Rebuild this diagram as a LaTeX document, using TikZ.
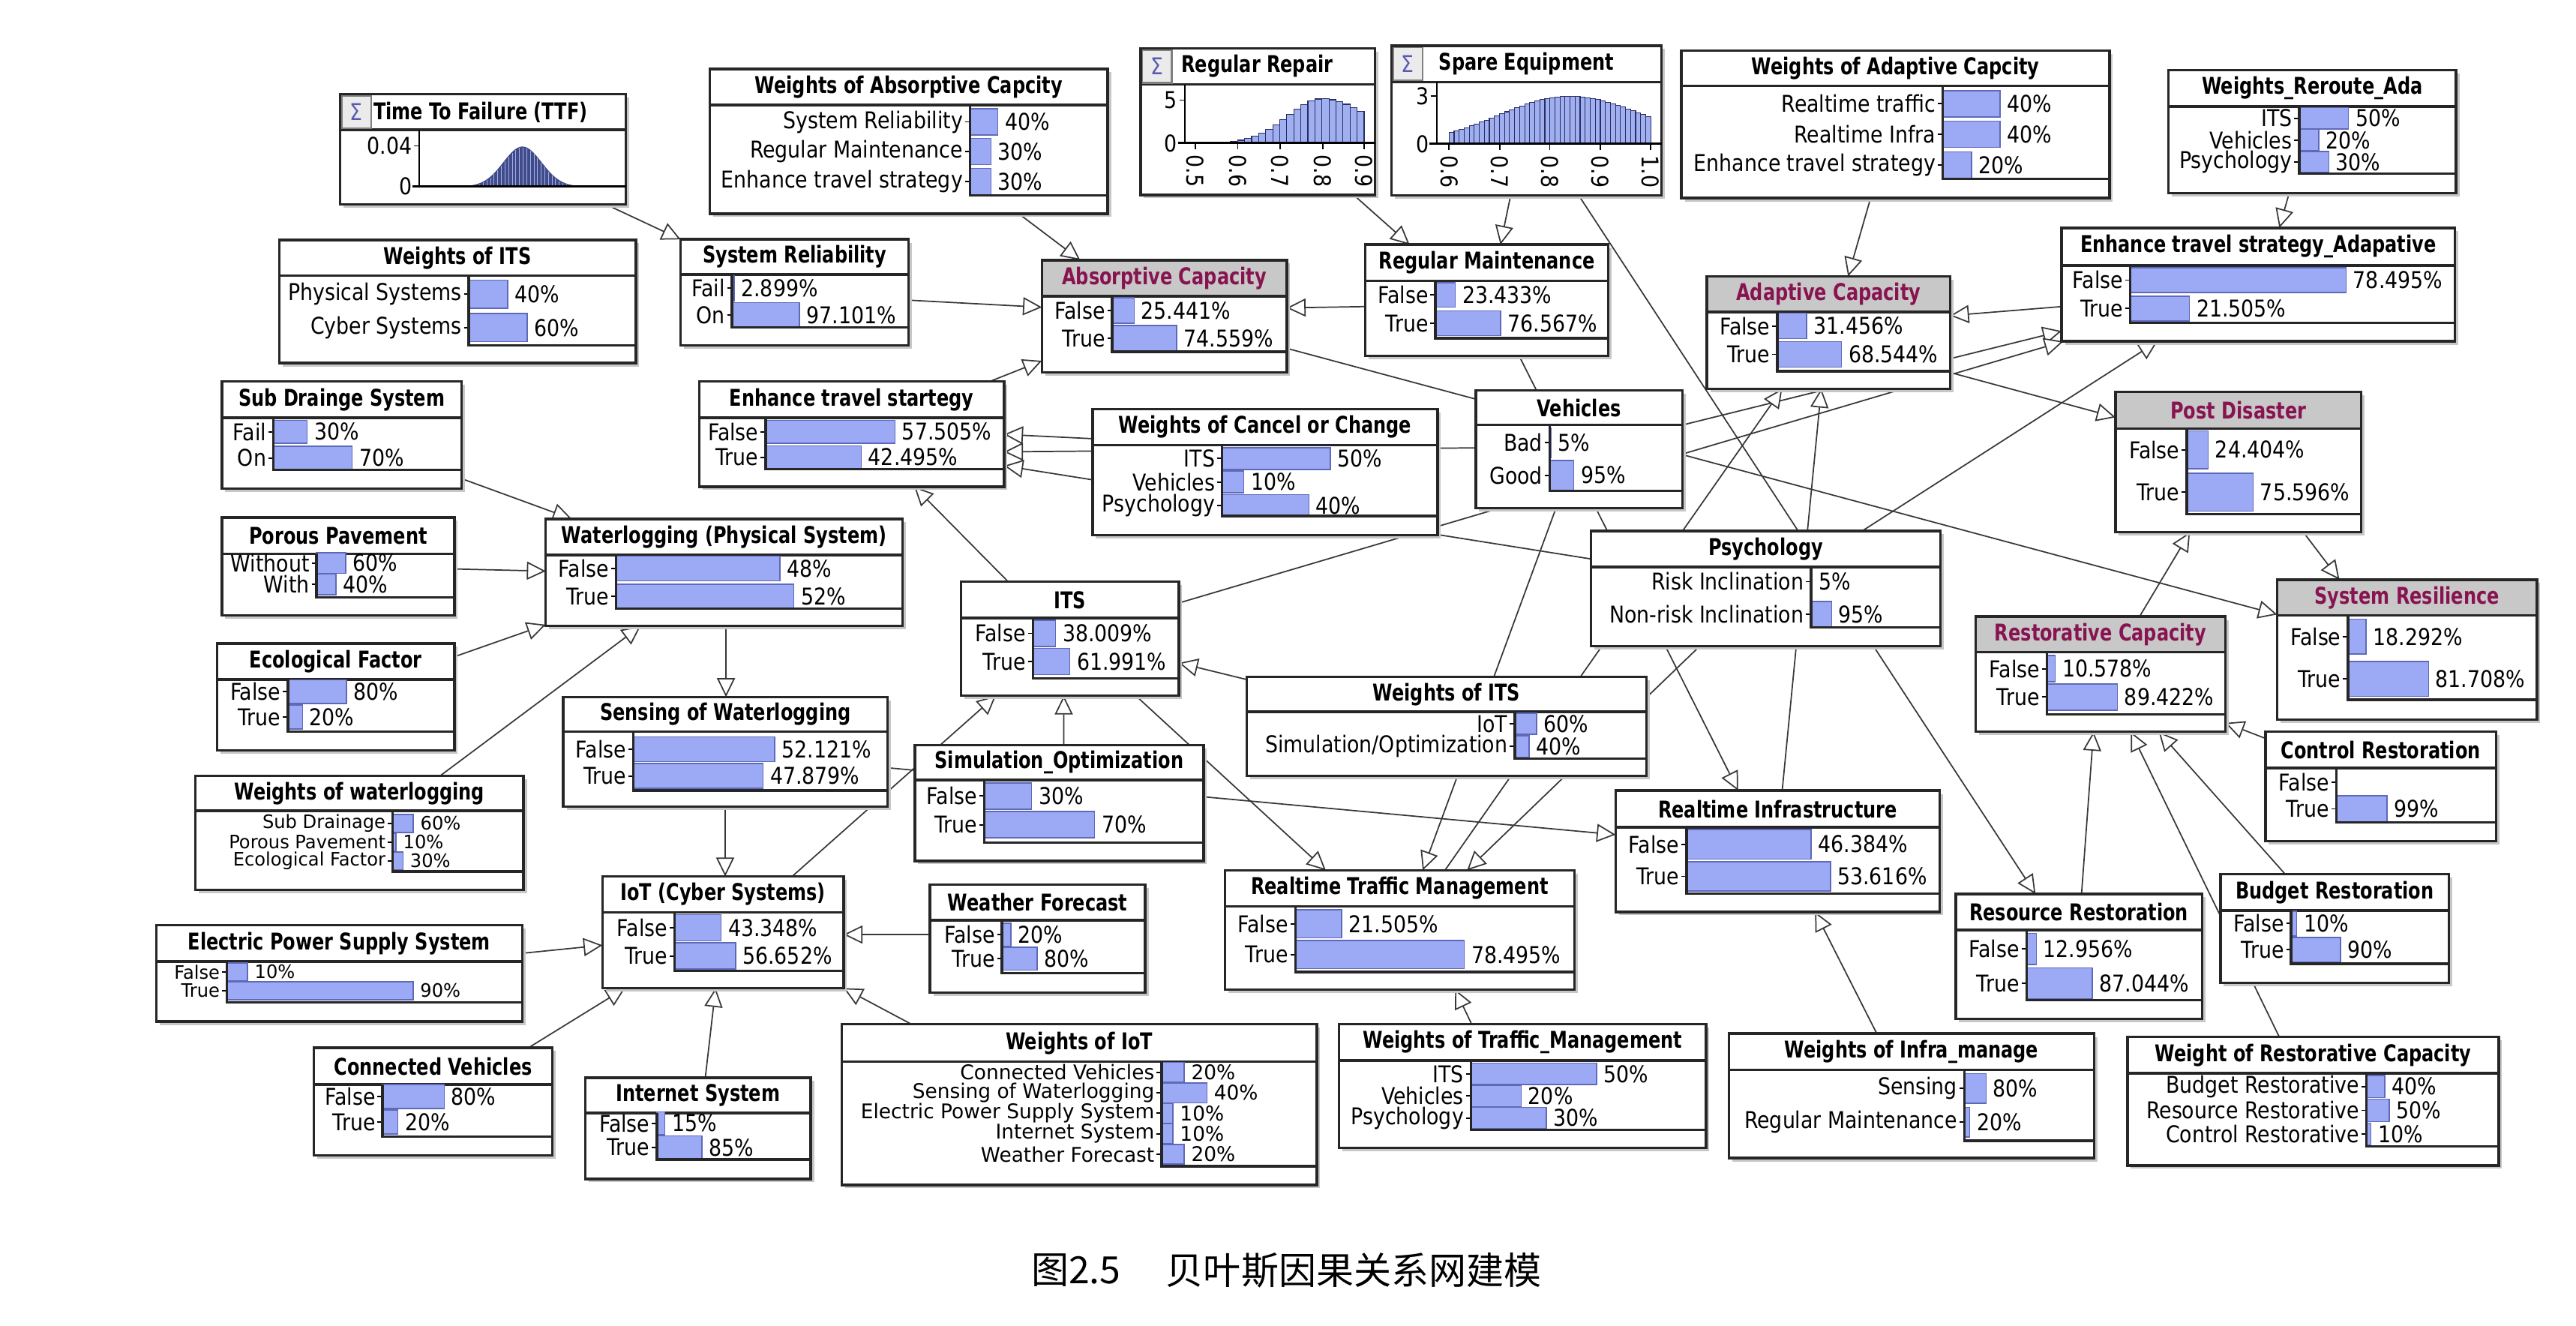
\documentclass[tikz,border=0pt]{standalone}
\usepackage{fontspec}
\setmainfont{DejaVu Sans}
\newfontfamily\rfont{DejaVu Sans}[FakeStretch=0.87]
\newfontfamily\sfont{DejaVu Sans}[FakeStretch=0.98]
\newfontfamily\tfont{DejaVu Sans}[FakeStretch=0.78]
\newfontfamily\cjk{Noto Sans CJK SC}
\usetikzlibrary{arrows.meta,calc}
\pgfdeclarelayer{bg}
\pgfsetlayers{bg,main}
\definecolor{barfill}{RGB}{156,170,245}
\definecolor{barline}{RGB}{95,105,185}
\definecolor{hdrgrey}{RGB}{200,200,200}
\definecolor{ttlred}{RGB}{135,20,80}
\definecolor{edgec}{RGB}{55,55,55}
\definecolor{histfill}{RGB}{160,175,240}
\definecolor{histline}{RGB}{40,45,100}
\definecolor{histdark}{RGB}{65,75,135}
\definecolor{sigc}{RGB}{90,90,180}
\newcommand\rowfont{\rfont\fontsize{8}{9}\selectfont}
\newcommand\smallrow{\sfont\fontsize{6.4}{7}\selectfont}
\newcommand\midrow{\sfont\fontsize{7}{8}\selectfont}
\newcommand\titlefont{\tfont\bfseries\fontsize{8}{9}\selectfont}
\tikzset{
  edge/.style={draw=edgec, line width=0.45pt, -{Triangle[length=2.3mm, width=2.2mm, fill=white]}},
  frame/.style={draw=black!85, line width=0.9pt},
}
\pgfkeys{/bn/.is family}
\pgfkeys{/bn/x/.store in=\bnX, /bn/y/.store in=\bnY, /bn/w/.store in=\bnW, /bn/h/.store in=\bnH,
 /bn/th/.store in=\bnTH, /bn/ax/.store in=\bnAX, /bn/sc/.store in=\bnSC, /bn/ya/.store in=\bnYA,
 /bn/rp/.store in=\bnRP, /bn/bh/.store in=\bnBH, /bn/bl/.store in=\bnBL,
 /bn/hdr/.store in=\bnHdr, /bn/tc/.store in=\bnTC, /bn/fs/.store in=\bnFS}
\newcommand\bnode[4]{%
 \pgfkeys{/bn/.cd,hdr=white,tc=black,th=22,bh=7,fs=\rowfont,#2}%
 \fill[black!22] ({\bnX+2},{\bnY+2}) rectangle ({\bnX+\bnW+2},{\bnY+\bnH+2});
 \node[rectangle, fill=white, inner sep=0pt, outer sep=0pt, anchor=north west,
   minimum width=\bnW*0.2mm, minimum height=\bnH*0.2mm] (#1) at (\bnX,\bnY) {};
 \fill[\bnHdr] (\bnX,\bnY) rectangle ({\bnX+\bnW},{\bnY+\bnTH});
 \draw[frame] (\bnX,{\bnY+\bnTH}) -- ({\bnX+\bnW},{\bnY+\bnTH});
 \node[font=\titlefont, text=\bnTC, inner sep=0pt] at ({\bnX+\bnW/2},{\bnY+\bnTH/2}) {#3};
 \foreach \lab/\pc/\val [count=\i from 0] in {#4}{%
   \pgfmathsetmacro\yy{\bnYA+\i*\bnRP}%
   \pgfmathsetmacro\xe{\bnAX+\pc*\bnSC/100}%
   \fill[barfill] (\bnAX,{\yy-\bnBH}) rectangle (\xe,{\yy+\bnBH});
   \draw[barline, line width=0.4pt] (\bnAX,{\yy-\bnBH}) rectangle (\xe,{\yy+\bnBH});
   \draw[line width=0.5pt] ({\bnAX-3},\yy) -- (\bnAX,\yy);
   \node[anchor=east, inner sep=0pt, font=\bnFS] at ({\bnAX-4},\yy) {\lab};
   \node[anchor=west, inner sep=0pt, font=\bnFS] at ({\xe+4},\yy) {\val};
 }
 \draw[frame] (\bnAX,{\bnY+\bnTH}) -- (\bnAX,\bnBL) -- ({\bnX+\bnW},\bnBL);
 \draw[frame] (#1.north west) rectangle (#1.south east);
}
\newcommand\signode[8]{%
 \fill[black!22] ({#2+2},{#3+2}) rectangle ({#2+#4+2},{#3+#5+2});
 \node[rectangle, fill=white, inner sep=0pt, outer sep=0pt, anchor=north west,
   minimum width=#4*0.2mm, minimum height=#5*0.2mm] (#1) at (#2,#3) {};
 \draw[frame] (#2,{#3+#6}) -- ({#2+#4},{#3+#6});
 \filldraw[fill=black!8, draw=black!50, line width=0.6pt] ({#2+1},{#3+1}) rectangle ({#2+19},{#3+#6-1});
 \node[inner sep=0pt, text=sigc, font=\rowfont] at ({#2+10},{#3+#6/2}) {Σ};
 \node[anchor=west, inner sep=0pt, font=\titlefont] at ({#2+#8},{#3+#6/2}) {#7};
 \draw[frame] (#1.north west) rectangle (#1.south east);
}
\newcommand\E[6]{\draw[edge] ($(#1.north west)+(#2,#3)$) -- ($(#4.north west)+(#5,#6)$);}
\begin{document}
\begin{tikzpicture}[x=0.2mm,y=-0.2mm]
\useasboundingbox (0,0) rectangle (1568,807);

% ---------- sigma nodes ----------
\signode{ttf}{207}{57.4}{174}{67.1}{21.6}{Time To Failure (TTF)}{20}
\draw[line width=0.6pt] (255.3,79) -- (255.3,113.5);
\draw (252,88.8) -- (255.3,88.8);
\node[anchor=east,inner sep=0pt,font=\rowfont] at (251,88.8) {0.04};
\node[anchor=east,inner sep=0pt,font=\rowfont] at (251,113.5) {0};
\fill[histdark] plot[domain=279:357,samples=70] (\x,{113.5-24.3*exp(0-((\x-318)/16.5)^2)}) -- cycle;
\foreach \x in {281,283.2,...,355}
  \draw[histfill, line width=0.25pt] (\x,113.5) -- (\x,{113.5-24.3*exp(0-((\x-318)/16.5)^2)+0.6});
\draw[line width=0.8pt] (251,113.5) -- (381,113.5);

\signode{rrepair}{694.3}{29.4}{142.7}{89.3}{22}{Regular Repair}{24.5}
\draw[line width=0.6pt] (721.3,51.4) -- (721.3,87.1);
\draw (718,60.9) -- (721.3,60.9);
\node[anchor=east,inner sep=0pt,font=\rowfont] at (717,60.9) {5};
\node[anchor=east,inner sep=0pt,font=\rowfont] at (717,87.1) {0};
\foreach \k in {0,...,23}{
  \pgfmathsetmacro\xa{727.6+\k*4.28}
  \pgfmathsetmacro\xm{\xa+2.14}
  \pgfmathsetmacro\ss{\xm<805?30:40}
  \pgfmathsetmacro\hh{27*exp(0-((\xm-805)/\ss)^2)}
  \filldraw[fill=histfill, draw=histline, line width=0.3pt] (\xa,87.1) rectangle ({\xa+4.28},{87.1-\hh});
}
\draw[line width=0.8pt] (717,87.1) -- (837,87.1);
\foreach \tx/\tl in {727.6/0.5,753.4/0.6,779.0/0.7,805.2/0.8,830.3/0.9}{
  \draw[line width=0.5pt] (\tx,87.1) -- (\tx,91);
  \node[anchor=west,inner sep=0pt,rotate=-90,font=\rowfont] at (\tx,94) {\tl};
}

\signode{spare}{847}{27.8}{164.4}{91.2}{22.1}{Spare Equipment}{28.5}
\draw[line width=0.6pt] (874.5,49.9) -- (874.5,87.6);
\draw (871,58.5) -- (874.5,58.5);
\node[anchor=east,inner sep=0pt,font=\rowfont] at (870,58.5) {3};
\node[anchor=east,inner sep=0pt,font=\rowfont] at (870,87.6) {0};
\foreach \k in {0,...,39}{
  \pgfmathsetmacro\xa{882+\k*3.07}
  \pgfmathsetmacro\xm{\xa+1.53}
  \pgfmathsetmacro\ss{\xm<955?60:65}
  \pgfmathsetmacro\hh{29*exp(0-((\xm-955)/\ss)^2)}
  \filldraw[fill=histfill, draw=histline, line width=0.3pt] (\xa,87.6) rectangle ({\xa+3.07},{87.6-\hh});
}
\draw[line width=0.8pt] (870,87.6) -- (1011.4,87.6);
\foreach \tx/\tl in {882/0.6,912.8/0.7,943.3/0.8,974.1/0.9,1004.7/1.0}{
  \draw[line width=0.5pt] (\tx,87.6) -- (\tx,91.5);
  \node[anchor=west,inner sep=0pt,rotate=-90,font=\rowfont] at (\tx,94.5) {\tl};
}

% ---------- belief nodes ----------
\bnode{wits1}{x=170,y=146,w=217,h=75,th=21.8,ax=285.4,sc=59,ya=179,rp=20.4,bh=8.5,bl=210.2}{Weights of ITS}{Physical Systems/40/40\%,Cyber Systems/60/60\%}
\bnode{wabs}{x=432,y=42,w=242.3,h=88,th=22,ax=590.4,sc=42.5,ya=74.2,rp=18.1,bh=8,bl=119}{Weights of Absorptive Capcity}{System Reliability/40/40\%,Regular Maintenance/30/30\%,Enhance travel strategy/30/30\%}
\bnode{sysrel}{x=414.3,y=145.7,w=138.8,h=64.5,th=21.3,ax=445.6,sc=42.3,ya=175.5,rp=16.2,bh=7.5,bl=199.2}{System Reliability}{Fail/2.899/2.899\%,On/97.101/97.101\%}
\bnode{abs}{x=634.2,y=158.3,w=149,h=68.4,th=22,ax=677,sc=52.5,ya=189,rp=17,bh=7.8,bl=214.1,hdr=hdrgrey,tc=ttlred}{Absorptive Capacity}{False/25.441/25.441\%,True/74.559/74.559\%}
\bnode{regmaint}{x=831,y=148.9,w=148,h=67.6,th=22,ax=873.7,sc=52,ya=179.5,rp=17.3,bh=7.5,bl=205.8}{Regular Maintenance}{False/23.433/23.433\%,True/76.567/76.567\%}
\bnode{wada}{x=1023.5,y=30.7,w=260.5,h=89.9,th=21.5,ax=1182.5,sc=87.5,ya=63.2,rp=18.6,bh=8,bl=108.8}{Weights of Adaptive Capcity}{Realtime traffic/40/40\%,Realtime Infra/40/40\%,Enhance travel strategy/20/20\%}
\bnode{wreroute}{x=1320,y=42.8,w=175,h=74.7,th=22,ax=1399.5,sc=60,ya=72,rp=13.3,bh=6.5,bl=105.7}{Weights\_Reroute\_Ada}{ITS/50/50\%,Vehicles/20/20\%,Psychology/30/30\%}
\bnode{ada}{x=1039,y=168.2,w=148,h=68.4,th=21.6,ax=1081.8,sc=57,ya=198.4,rp=17.3,bh=7.8,bl=225.9,hdr=hdrgrey,tc=ttlred}{Adaptive Capacity}{False/31.456/31.456\%,True/68.544/68.544\%}
\bnode{enhad}{x=1254.9,y=138.7,w=239.4,h=69.1,th=22.8,ax=1296.7,sc=167.3,ya=170.5,rp=17.3,bh=7.5,bl=196.4}{Enhance travel strategy\_Adapative}{False/78.495/78.495\%,True/21.505/21.505\%}
\bnode{subd}{x=135.1,y=232.2,w=145.8,h=65.2,th=22,ax=166.4,sc=68.5,ya=262.8,rp=15.9,bh=7,bl=286}{Sub Drainge System}{Fail/30/30\%,On/70/70\%}
\bnode{ets}{x=425.6,y=232.2,w=185.6,h=64,th=22,ax=466,sc=137,ya=262.8,rp=15.5,bh=7,bl=285.6}{Enhance travel startegy}{False/57.505/57.505\%,True/42.495/42.495\%}
\bnode{wcancel}{x=665,y=249,w=210,h=76.6,th=22,ax=743.9,sc=132,ya=279.1,rp=14.25,bh=6.6,bl=314.1}{Weights of Cancel or Change}{ITS/50/50\%,Vehicles/10/10\%,Psychology/40/40\%}
\bnode{veh}{x=898.3,y=237.7,w=125.7,h=71.6,th=21,ax=943.3,sc=15.4,ya=269.5,rp=19.8,bh=9,bl=298.7}{Vehicles}{Bad/5/5\%,Good/95/95\%}
\bnode{psych}{x=968.4,y=323.1,w=212.8,h=70.1,th=22,ax=1102.3,sc=13.2,ya=354,rp=20,bh=8,bl=381.8}{Psychology}{Risk Inclination/5/5\%,Non-risk Inclination/95/95\%}
\bnode{postd}{x=1287.7,y=238.5,w=149.5,h=85.4,th=22.3,ax=1331,sc=53.5,ya=273.7,rp=25.8,bh=11.5,bl=313,hdr=hdrgrey,tc=ttlred}{Post Disaster}{False/24.404/24.404\%,True/75.596/75.596\%}
\bnode{sysres}{x=1386.1,y=352.8,w=158.1,h=85.2,th=21.7,ax=1429.2,sc=60,ya=387.5,rp=25.7,bh=10.6,bl=425.8,hdr=hdrgrey,tc=ttlred}{System Resilience}{False/18.292/18.292\%,True/81.708/81.708\%}
\bnode{restor}{x=1202.6,y=375.3,w=151.9,h=70.1,th=21.5,ax=1245.9,sc=48,ya=407,rp=17.2,bh=8,bl=434.8,hdr=hdrgrey,tc=ttlred}{Restorative Capacity}{False/10.578/10.578\%,True/89.422/89.422\%}
\bnode{control}{x=1378.9,y=445.4,w=140.5,h=66.6,th=22,ax=1422.1,sc=31.2,ya=476,rp=16.3,bh=8,bl=500.6}{Control Restoration}{False/0/{},True/99/99\%}
\bnode{waterlog}{x=332.2,y=315.8,w=217.1,h=65.2,th=22,ax=375,sc=208,ya=346,rp=17,bh=7.5,bl=370.4}{Waterlogging (Physical System)}{False/48/48\%,True/52/52\%}
\bnode{porous}{x=135.1,y=315,w=141.5,h=59.5,th=22,ax=192.7,sc=29.5,ya=342.7,rp=13,bh=6.3,bl=363.5}{Porous Pavement}{Without/60/60\%,With/40/40\%}
\bnode{eco}{x=132.1,y=391.6,w=144.5,h=65.2,th=22,ax=175.2,sc=44.5,ya=421,rp=15.5,bh=7.3,bl=445.4}{Ecological Factor}{False/80/80\%,True/20/20\%}
\bnode{wwater}{x=118.8,y=472.3,w=199.9,h=69.3,th=21.1,ax=239,sc=21,ya=501.2,rp=11.4,bh=5.5,bl=530.5,fs=\smallrow}{Weights of waterlogging}{Sub Drainage/60/60\%,Porous Pavement/10/10\%,Ecological Factor/30/30\%}
\bnode{sensing}{x=342.9,y=424.2,w=197.4,h=66.8,th=21.2,ax=385.5,sc=165,ya=456,rp=16.3,bh=7.5,bl=481.2}{Sensing of Waterlogging}{False/52.121/52.121\%,True/47.879/47.879\%}
\bnode{its}{x=584.9,y=354.1,w=132.7,h=69.3,th=22,ax=628.7,sc=36.3,ya=385.5,rp=17.2,bh=8,bl=412.8}{ITS}{False/38.009/38.009\%,True/61.991/61.991\%}
\bnode{simopt}{x=556.8,y=453.5,w=175.8,h=70.5,th=21.2,ax=599.1,sc=96,ya=484.5,rp=17.5,bh=8,bl=512.9}{Simulation\_Optimization}{False/30/30\%,True/70/70\%}
\bnode{wits2}{x=758.9,y=412,w=243.3,h=60.3,th=21.1,ax=922,sc=22,ya=440.5,rp=13.8,bh=6.5,bl=461.7}{Weights of ITS}{IoT/60/60\%,{Simulation/Optimization}/40/40\%}
\bnode{ri}{x=983.4,y=481.2,w=197.3,h=73.8,th=22.4,ax=1026.5,sc=163.5,ya=513.8,rp=19.6,bh=9,bl=543.9}{Realtime Infrastructure}{False/46.384/46.384\%,True/53.616/53.616\%}
\bnode{resrest}{x=1190.4,y=544.1,w=150,h=76.1,th=22,ax=1233.5,sc=46,ya=577.5,rp=21,bh=9.5,bl=608.8}{Resource Restoration}{False/12.956/12.956\%,True/87.044/87.044\%}
\bnode{budget}{x=1351.6,y=532.1,w=139.1,h=66.1,th=22,ax=1394.6,sc=33.3,ya=562.1,rp=16,bh=7.5,bl=586.5}{Budget Restoration}{False/10/10\%,True/90/90\%}
\bnode{wrestor}{x=1295,y=631.2,w=226,h=78.1,th=22,ax=1440.4,sc=28,ya=661.3,rp=14.5,bh=6.8,bl=697.7}{Weight of Restorative Capacity}{Budget Restorative/40/40\%,Resource Restorative/50/50\%,Control Restorative/10/10\%}
\bnode{winfra}{x=1052.3,y=629.1,w=222.5,h=75.8,th=22,ax=1195.7,sc=16.5,ya=662.5,rp=20.4,bh=9,bl=694.3}{Weights of Infra\_manage}{Sensing/80/80\%,Regular Maintenance/20/20\%}
\bnode{wtraffic}{x=815,y=623.4,w=223.5,h=75.3,th=22,ax=895.3,sc=153,ya=653.6,rp=13.4,bh=6.5,bl=687.8}{Weights of Traffic\_Management}{ITS/50/50\%,Vehicles/20/20\%,Psychology/30/30\%}
\bnode{rtm}{x=745.6,y=529.7,w=212.8,h=72.5,th=22,ax=788.5,sc=131,ya=562.3,rp=18.7,bh=8.5,bl=591.6}{Realtime Traffic Management}{False/21.505/21.505\%,True/78.495/78.495\%}
\bnode{weather}{x=566.1,y=538.3,w=131,h=65.9,th=21.9,ax=609.9,sc=26.6,ya=568.8,rp=14.7,bh=7,bl=592.4}{Weather Forecast}{False/20/20\%,True/80/80\%}
\bnode{iot}{x=366.7,y=533.4,w=146.8,h=68,th=21.9,ax=410.6,sc=65.5,ya=564.7,rp=17.1,bh=8,bl=590.8}{IoT (Cyber Systems)}{False/43.348/43.348\%,True/56.652/56.652\%}
\bnode{elec}{x=95.1,y=563.1,w=222.8,h=58.7,th=22,ax=138.1,sc=126,ya=591.6,rp=11.4,bh=5.5,bl=610,fs=\smallrow}{Electric Power Supply System}{False/10/10\%,True/90/90\%}
\bnode{connveh}{x=191,y=637.7,w=145.2,h=65.6,th=22.4,ax=232.8,sc=47,ya=667.4,rp=15.5,bh=7.3,bl=691.9}{Connected Vehicles}{False/80/80\%,True/20/20\%}
\bnode{internet}{x=356.2,y=656,w=137.3,h=61.6,th=21.5,ax=399.8,sc=32.4,ya=683.7,rp=14.7,bh=7,bl=705.7}{Internet System}{False/15/15\%,True/85/85\%}
\bnode{wiot}{x=512.3,y=623.4,w=289.2,h=97.8,th=22.8,ax=707,sc=69,ya=652.7,rp=12.45,bh=6,bl=709.8,fs=\midrow}{Weights of IoT}{Connected Vehicles/20/20\%,Sensing of Waterlogging/40/40\%,Electric Power Supply System/10/10\%,Internet System/10/10\%,Weather Forecast/20/20\%}

% ---------- connectors (behind the nodes) ----------
\begin{pgfonlayer}{bg}
\E{ttf}{162}{67.1}{sysrel}{0}{0}
\E{wabs}{188}{88}{abs}{23.3}{0}
\E{sysrel}{138.8}{37}{abs}{0}{28.7}
\E{regmaint}{0}{37.7}{abs}{149}{29.1}
\E{ets}{176.8}{0}{abs}{0}{61.3}
\E{rrepair}{129.7}{89.3}{regmaint}{27}{0}
\E{spare}{72.5}{91.2}{regmaint}{82.3}{0}
\E{spare}{114}{91.2}{resrest}{48.6}{0}
\E{wada}{115.1}{89.9}{ada}{85.9}{0}
\E{enhad}{0}{47.9}{ada}{148}{23.9}
\E{wreroute}{73.4}{74.7}{enhad}{132.5}{0}
\E{veh}{125.7}{21}{enhad}{0}{62.8}
\E{its}{132.7}{12.9}{enhad}{1}{69.1}
\E{psych}{165.2}{0}{enhad}{58.3}{69.1}
\E{its}{28.8}{0}{ets}{130.9}{64}
\E{wcancel}{0}{18}{ets}{185.6}{32.2}
\E{veh}{0}{34.9}{ets}{185.6}{42.8}
\E{psych}{0}{17.1}{ets}{185.6}{51.3}
\E{abs}{149}{53.7}{sysres}{0}{21.2}
\E{ada}{148}{58.5}{postd}{0}{15.5}
\E{postd}{114.3}{85.4}{sysres}{37.9}{0}
\E{restor}{99.7}{0}{postd}{45.3}{85.4}
\E{rtm}{133.9}{0}{ada}{45.8}{68.4}
\E{ri}{101.4}{0}{ada}{69.6}{68.4}
\E{regmaint}{93.6}{67.6}{ri}{74.6}{0}
\E{veh}{48.8}{71.6}{rtm}{120.4}{0}
\E{psych}{66.3}{70.1}{rtm}{147.4}{0}
\E{its}{106.4}{69.3}{rtm}{61.4}{0}
\E{sensing}{197.4}{43.1}{ri}{0}{26.8}
\E{wits2}{0}{1.6}{its}{132.7}{49.4}
\E{simopt}{90.7}{0}{its}{62.6}{69.3}
\E{iot}{115.5}{0}{its}{21.3}{69.3}
\E{waterlog}{109.7}{65.2}{sensing}{99}{0}
\E{sensing}{98.5}{66.8}{iot}{74.7}{0}
\E{wwater}{149}{0}{waterlog}{57.8}{65.2}
\E{eco}{144.5}{8.1}{waterlog}{0}{64.4}
\E{porous}{141.5}{31.3}{waterlog}{0}{31.8}
\E{subd}{145.8}{59.1}{waterlog}{15.8}{0}
\E{elec}{222.8}{17.1}{iot}{0}{41.9}
\E{weather}{0}{30.5}{iot}{146.8}{35.4}
\E{wiot}{42.5}{0}{iot}{146.8}{68}
\E{connveh}{130.7}{0}{iot}{13.8}{68}
\E{internet}{73.1}{0}{iot}{68.9}{68}
\E{wtraffic}{80.8}{0}{rtm}{140.1}{72.5}
\E{winfra}{90.1}{0}{ri}{121.4}{73.8}
\E{resrest}{76.6}{0}{restor}{71.7}{70.1}
\E{budget}{39.4}{0}{restor}{111.4}{70.1}
\E{wrestor}{92.4}{0}{restor}{94.4}{70.1}
\E{control}{0}{4}{restor}{151.9}{64.7}
\end{pgfonlayer}

% ---------- caption ----------
\node[inner sep=0pt, font=\cjk\fontsize{13}{15}\selectfont] (cap1) at (655,773) {图2.5};
\node[inner sep=0pt, font=\cjk\fontsize{13}{15}\selectfont] (cap2) at (824,773) {贝叶斯因果关系网建模};
\end{tikzpicture}
\end{document}
